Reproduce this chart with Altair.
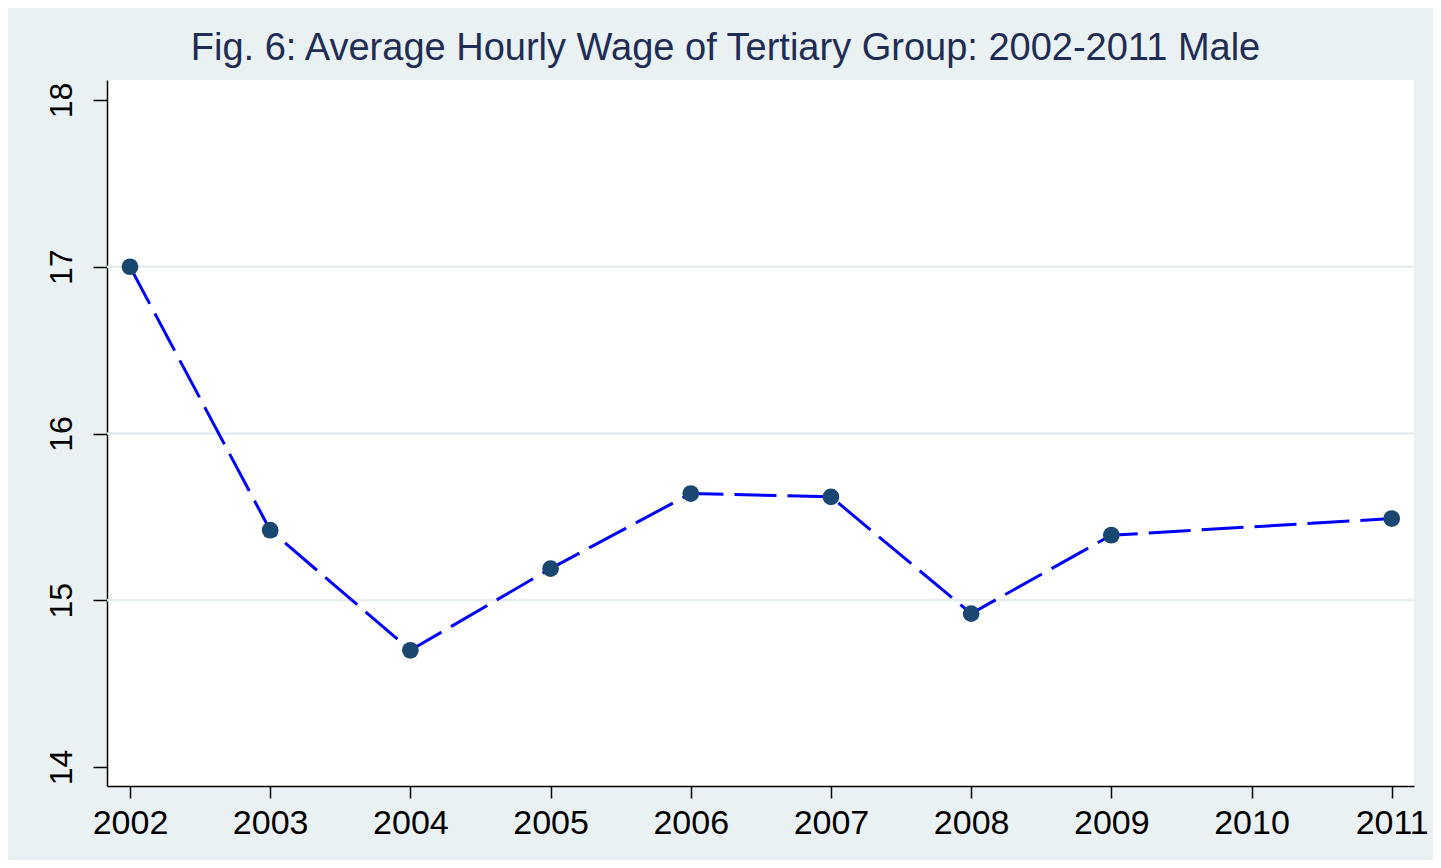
import altair as alt
import pandas as pd

years = [2002, 2003, 2004, 2005, 2006, 2007, 2008, 2009, 2011]
wages = [17.00, 15.42, 14.70, 15.19, 15.64, 15.62, 14.92, 15.39, 15.49]
x_ticks = [2002, 2003, 2004, 2005, 2006, 2007, 2008, 2009, 2010, 2011]
y_ticks = [14, 15, 16, 17, 18]
grid_vals = [15, 16, 17]
title_text = "Fig. 6: Average Hourly Wage of Tertiary Group: 2002-2011 Male"

df = pd.DataFrame({"year": years, "wage": wages})
gdf = pd.DataFrame({"g": grid_vals})

FONT = "Liberation Sans"
xscale = alt.Scale(domain=[2001.836, 2011.159], nice=False, zero=False)
yscale = alt.Scale(domain=[13.886, 18.12], nice=False, zero=False)

xaxis = alt.Axis(values=x_ticks, format="d", title=None, grid=False,
                 tickSize=12, tickColor="black", tickWidth=1.5,
                 domainColor="black", domainWidth=1.5,
                 labelFont=FONT, labelFontSize=34, labelColor="black",
                 labelPadding=8, labelFlush=False, labelOverlap=False)
yaxis = alt.Axis(values=y_ticks, title=None, grid=False,
                 tickSize=14, tickColor="black", tickWidth=1.5,
                 domainColor="black", domainWidth=1.5,
                 labelFont=FONT, labelFontSize=32, labelColor="black",
                 labelAngle=270, labelAlign="center", labelBaseline="alphabetic",
                 labelPadding=22, labelFlush=False, labelOverlap=False)

grid = alt.Chart(gdf).mark_rule(color="#e6eef0", strokeWidth=2.5).encode(
    y=alt.Y("g:Q", scale=yscale, axis=yaxis)
)

line = alt.Chart(df).mark_line(color="#0000ff", strokeWidth=3, strokeDash=[42, 11]).encode(
    x=alt.X("year:Q", scale=xscale, axis=xaxis),
    y=alt.Y("wage:Q", scale=yscale, axis=yaxis),
)

pts = alt.Chart(df).mark_point(filled=True, shape="circle", size=280, color="#1a476f", opacity=1).encode(
    x=alt.X("year:Q", scale=xscale, axis=xaxis),
    y=alt.Y("wage:Q", scale=yscale, axis=yaxis),
)

chart = alt.layer(grid, line, pts).properties(
    width=1307, height=706,
    autosize=alt.AutoSizeParams(type="none"),
    padding={"left": 99, "top": 72, "right": 19, "bottom": 74},
    background="#eaf1f3",
    title=alt.TitleParams(title_text, font=FONT, fontSize=38, fontWeight="normal",
                          color="#1f2d54", anchor="middle", frame="group",
                          baseline="alphabetic", offset=-18, dx=-35),
).configure_view(fill="white", stroke=None)

chart.save("out.html", embed_options={"renderer": "svg", "actions": False})
